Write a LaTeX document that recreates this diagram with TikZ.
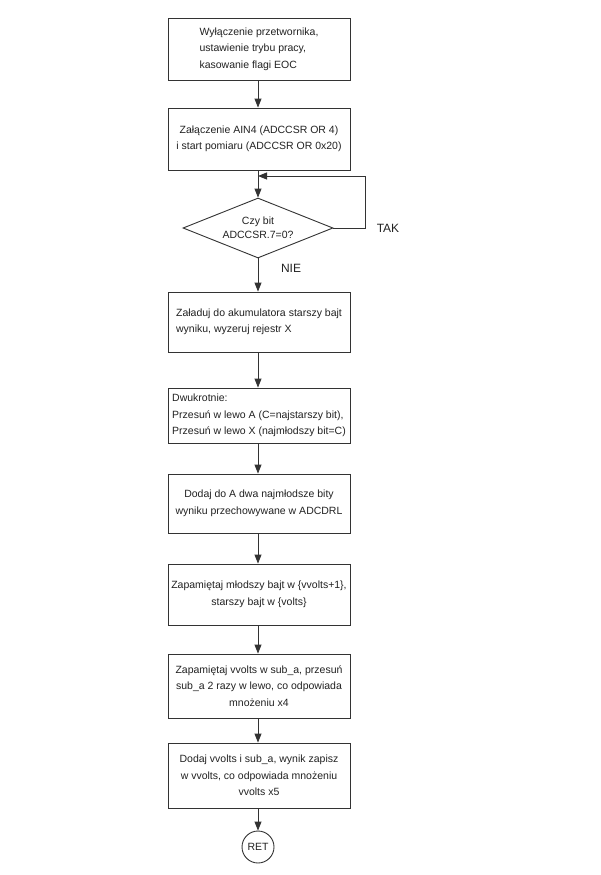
\documentclass[tikz,border=0pt]{standalone}
\usepackage{fontspec}
\setmainfont{Liberation Sans}
\usetikzlibrary{arrows.meta,shapes.geometric}
\definecolor{ln}{HTML}{333333}
\definecolor{tx}{HTML}{222222}
\tikzset{
  box/.style={draw=ln, line width=0.9pt, minimum width=182pt, inner sep=2pt, text=tx,
    font=\fontsize{10.5}{16.5}\selectfont},
  dec/.style={draw=ln, line width=0.9pt, diamond, aspect=2.5, minimum width=150pt, minimum height=60pt,
    inner sep=0pt, text=tx, align=center, font=\fontsize{10.5}{14}\selectfont},
  flow/.style={draw=ln, line width=0.9pt, -{Triangle[length=9pt,width=7pt]}},
  lab/.style={text=tx, font=\fontsize{12}{14}\selectfont},
}
\begin{document}
\begin{tikzpicture}[x=1pt,y=-1pt]
\useasboundingbox[fill=white] (0,0) rectangle (600,875);
\node[box, minimum height=62pt, align=left] (b1) at (259,49) {Wyłączenie przetwornika,\\ustawienie trybu pracy,\\kasowanie flagi EOC};
\node[box, minimum height=62pt, align=center] (b2) at (259,139) {Załączenie AIN4 (ADCCSR OR 4)\\i start pomiaru (ADCCSR OR 0x20)};
\node[dec] (d) at (258,228) {Czy bit\\ADCCSR.7=0?};
\node[box, minimum height=60pt, align=left] (b3) at (259,322) {Załaduj do akumulatora starszy bajt\\wyniku, wyzeruj rejestr X};
\node[box, minimum height=55pt, align=left] (b4) at (259,415.5) {Dwukrotnie:\\Przesuń w lewo A (C=najstarszy bit),\\Przesuń w lewo X (najmłodszy bit=C)};
\node[box, minimum height=59pt, align=center] (b5) at (259,503.5) {Dodaj do A dwa najmłodsze bity\\wyniku przechowywane w ADCDRL};
\node[box, minimum height=61pt, align=center] (b6) at (259,594.5) {Zapamiętaj młodszy bajt w \{vvolts+1\},\\starszy bajt w \{volts\}};
\node[box, minimum height=64pt, align=center] (b7) at (259,686) {Zapamiętaj vvolts w sub\_a, przesuń\\sub\_a 2 razy w lewo, co odpowiada\\mnożeniu x4};
\node[box, minimum height=65pt, align=center] (b8) at (259,775.5) {Dodaj vvolts i sub\_a, wynik zapisz\\w vvolts, co odpowiada mnożeniu\\vvolts x5};
\node[draw=ln, line width=0.9pt, circle, minimum size=32pt, inner sep=0pt, text=tx, font=\fontsize{10.5}{12}\selectfont] (ret) at (258,847) {RET};
\coordinate (j) at (258,176);
\coordinate (lr) at (365,176);
\node[lab] (tak) at (388,228) {TAK};
\node[lab] (nie) at (291,268) {NIE};
\draw[flow] (b1.south -| j) -- (b2.north -| j);
\draw[flow] (b2.south -| j) -- (d.north);
\draw[flow] (d.east) -| (lr) -- (j);
\draw[flow] (d.south) -- (b3.north -| d.south);
\draw[flow] (b3.south -| j) -- (b4.north -| j);
\draw[flow] (b4.south -| j) -- (b5.north -| j);
\draw[flow] (b5.south -| j) -- (b6.north -| j);
\draw[flow] (b6.south -| j) -- (b7.north -| j);
\draw[flow] (b7.south -| j) -- (b8.north -| j);
\draw[flow] (b8.south -| j) -- (ret.north);
\end{tikzpicture}
\end{document}
